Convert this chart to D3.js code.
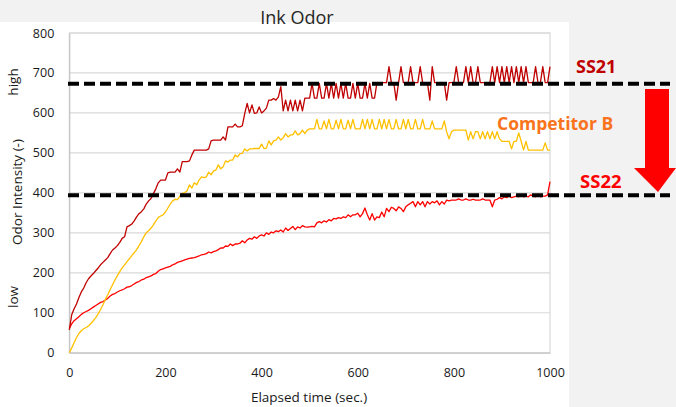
<!DOCTYPE html>
<html>
<head>
<meta charset="utf-8">
<script src="https://cdn.jsdelivr.net/npm/d3@7"></script>
<style>
  body { margin: 0; background: #f2f2f2; }
  text { font-family: "Open Sans", "Noto Sans", sans-serif; }
</style>
</head>
<body>
<script>

// sampled every 5 sec, 0..1000
var step = 5;

var ss21 = [
  57,95,110,122,138,152,162,175,185,192,198,205,212,220,226,232,238,248,257,262,
  268,276,286,290,315,318,322,330,340,348,353,360,372,380,386,398,410,425,432,432,
  432,450,452,452,452,460,452,478,478,478,480,495,507,507,507,507,507,507,510,530,
  532,532,532,532,540,532,565,565,565,572,565,565,568,599,624,600,620,599,600,615,
  600,605,612,632,632,636,632,640,666,605,632,605,632,605,632,605,632,605,637,637,
  637,674,637,637,674,637,637,674,637,674,637,674,637,674,637,674,637,637,674,637,
  674,637,637,674,637,674,637,637,676,676,676,676,676,716,676,676,632,676,716,676,
  676,676,716,676,676,676,716,676,676,676,632,716,676,676,676,676,676,632,676,676,
  676,716,676,676,676,716,676,716,676,676,716,676,676,676,676,676,716,676,716,676,
  716,676,716,676,716,676,716,676,716,676,716,676,676,676,716,676,676,716,676,676,
  716
];

var compB = [
  0,12,25,38,48,55,60,63,67,73,80,88,97,108,120,133,145,158,170,182,
  193,203,212,220,228,235,243,250,258,268,278,290,300,305,312,320,330,338,342,345,
  352,362,372,380,384,383,392,399,400,405,420,412,425,420,432,440,438,440,452,445,
  455,457,470,460,465,480,477,482,482,495,490,498,499,510,505,510,510,511,511,511,
  522,511,512,530,520,530,532,540,532,538,548,540,545,545,555,545,548,557,548,557,
  560,560,560,584,560,560,580,560,584,560,560,582,560,584,560,560,582,560,584,560,
  560,560,584,560,584,560,584,560,560,584,560,584,560,584,560,560,584,560,560,584,
  560,584,560,560,584,560,560,584,560,560,560,580,560,560,560,560,580,553,535,553,
  557,557,557,557,557,557,532,553,535,553,553,535,553,535,553,535,553,535,553,535,
  529,529,529,529,510,529,529,550,529,507,529,507,507,507,507,507,507,507,525,507,
  507
];

var ss22 = [
  61,72,80,85,90,96,100,103,106,110,114,118,122,126,128,132,136,142,146,148,
  152,155,157,160,164,165,168,172,176,178,182,184,188,190,192,196,198,204,208,210,
  212,214,216,220,222,226,228,230,232,234,236,237,238,240,242,245,246,248,252,250,
  253,255,258,262,262,267,266,272,268,272,272,274,280,275,282,286,284,290,286,292,
  295,292,300,296,302,300,305,303,307,302,312,306,311,316,308,315,312,318,315,314,
  315,316,315,325,328,325,330,327,333,330,336,335,338,336,340,338,345,340,345,345,
  349,340,348,362,345,332,348,332,340,338,352,340,361,353,364,361,355,365,361,353,
  365,370,374,378,365,378,370,378,365,378,372,378,375,380,370,378,372,382,380,382,
  382,382,385,382,382,385,382,382,384,382,382,382,385,382,382,382,365,382,384,388,
  385,390,388,392,388,390,392,390,395,390,392,390,395,392,390,395,390,392,392,395,
  428
];

var xTicks = [0, 200, 400, 600, 800, 1000];
var yTicks = [0, 100, 200, 300, 400, 500, 600, 700, 800];
var refNames = ["SS21", "SS22"];
var refLevels = [673, 394];

var W = 676, H = 407;

var svg = d3.select("body").append("svg")
    .attr("width", W)
    .attr("height", H)

// white panel
svg.append("rect").attr("x", 0).attr("y", 22).attr("width", 569).attr("height", H - 22).attr("fill", "#fff")

var x = d3.scaleLinear().domain([0, 1000]).range([69.3, 550])
var y = d3.scaleLinear().domain([0, 800]).range([352.7, 33])

svg.append("g").selectAll("line").data(yTicks).enter().append("line")
  .attr("x1", x(0)).attr("x2", x(1000))
  .attr("y1", function(d){return y(d);}).attr("y2", function(d){return y(d);})
  .attr("stroke", "#d9d9d9").attr("stroke-width", 1.2)

svg.append("rect")
  .attr("x", x(0)).attr("y", y(800))
  .attr("width", x(1000) - x(0)).attr("height", y(0) - y(800))
  .attr("fill", "none").attr("stroke", "#d9d9d9").attr("stroke-width", 1.2)

var yAxis = svg.append("g").attr("transform", "translate(" + x(0) + ",0)")
  .call(d3.axisLeft(y).tickValues(yTicks).tickSize(0).tickPadding(15).tickFormat(d3.format("d")))
yAxis.select(".domain").attr("stroke", "#bfbfbf")

var xAxis = svg.append("g").attr("transform", "translate(0," + y(0) + ")")
  .call(d3.axisBottom(x).tickValues(xTicks).tickSize(0).tickPadding(15).tickFormat(d3.format("d")))
xAxis.select(".domain").attr("stroke", "#bfbfbf")

svg.selectAll(".tick text").attr("font-size", 12.5).attr("fill", "#1a1a1a")
  .style("font-family", "'Open Sans', sans-serif")

var line = d3.line()
  .x(function(d, i){return x(i * step);})
  .y(function(d){return y(d);})

var series = [
  {values: ss22, color: "#ff0000"},
  {values: compB, color: "#ffc000"},
  {values: ss21, color: "#c00000"}
];

svg.selectAll(".series").data(series).enter().append("path")
  .attr("class", "series")
  .attr("d", function(d){return line(d.values);})
  .attr("fill", "none")
  .attr("stroke", function(d){return d.color;})
  .attr("stroke-width", 1.3)
  .attr("stroke-linejoin", "round")

// reference levels
svg.selectAll(".ref").data(refLevels).enter().append("line")
  .attr("class", "ref")
  .attr("x1", 68).attr("x2", 670)
  .attr("y1", function(d){return y(d);}).attr("y2", function(d){return y(d);})
  .attr("stroke", "#000").attr("stroke-width", 4)
  .attr("stroke-dasharray", "11,5")

svg.append("text").attr("x", 297).attr("y", 24).attr("text-anchor", "middle")
  .attr("font-size", 18).attr("fill", "#262626").text("Ink Odor")

svg.append("text").attr("x", 309).attr("y", 402).attr("text-anchor", "middle")
  .attr("font-size", 13.5).attr("fill", "#1a1a1a").text("Elapsed time (sec.)")

svg.append("text").attr("transform", "translate(22,192) rotate(-90)").attr("text-anchor", "middle")
  .attr("font-size", 13.5).attr("fill", "#1a1a1a").text("Odor Intensity (-)")
svg.append("text").attr("transform", "translate(18,82) rotate(-90)").attr("text-anchor", "middle")
  .attr("font-size", 13.5).attr("fill", "#1a1a1a").text("high")
svg.append("text").attr("transform", "translate(18,297) rotate(-90)").attr("text-anchor", "middle")
  .attr("font-size", 13.5).attr("fill", "#1a1a1a").text("low")

svg.append("text").attr("x", 576).attr("y", 73)
  .attr("font-size", 18).attr("font-weight", "bold").attr("fill", "#c00000").text(refNames[0])
svg.append("text").attr("x", 497).attr("y", 130)
  .attr("font-size", 17.5).attr("font-weight", "bold").attr("fill", "#f8731c").text("Competitor B")
svg.append("text").attr("x", 580).attr("y", 188)
  .attr("font-size", 18.5).attr("font-weight", "bold").attr("fill", "#ff0000").text(refNames[1])

// arrow
svg.append("path")
  .attr("d", "M645,89 L669,89 L669,168 L676,168 L658,192 L634,168 L645,168 Z")
  .attr("fill", "#ff0000")

</script>
</body>
</html>
